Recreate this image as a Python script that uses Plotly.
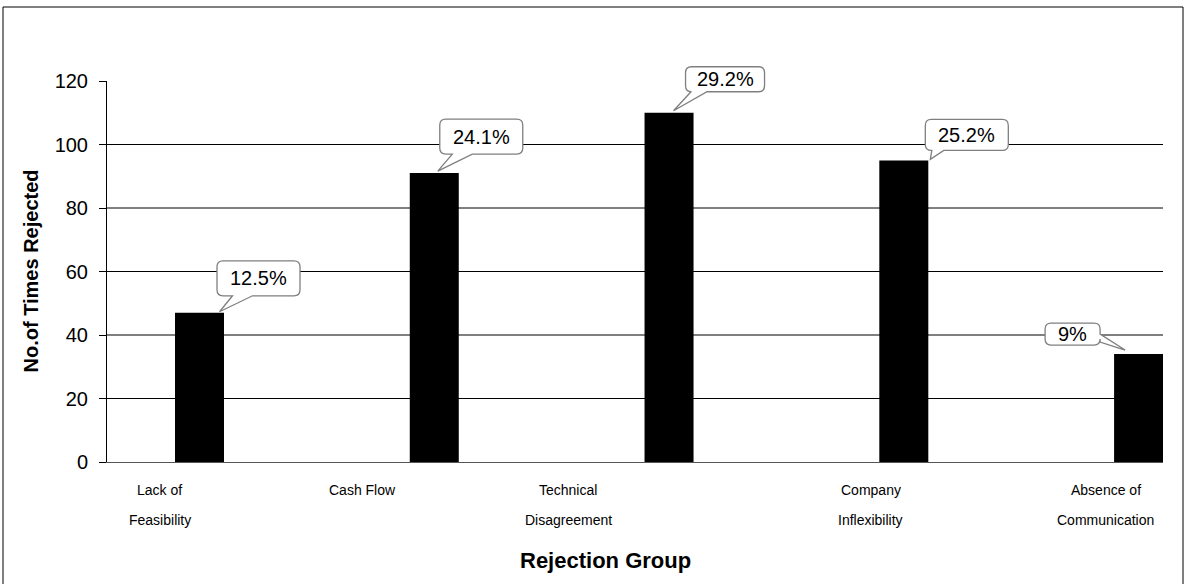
import plotly.graph_objects as go

# Rejection counts per group
categories = [
    ("Lack of", "Feasibility"),
    ("Cash Flow", ""),
    ("Technical", "Disagreement"),
    ("Company", "Inflexibility"),
    ("Absence of", "Communication"),
]
times_rejected = [47, 91, 110, 95, 34]
y_ticks = [0, 20, 40, 60, 80, 100, 120]
grid_values = [20, 40, 60, 80, 100]

total = sum(times_rejected)
shares = [round(100 * v / total, 1) for v in times_rejected]
share_labels = [f"{s:g}%" for s in shares]

FONT = "Liberation Sans, Arial, sans-serif"
W, H = 1187, 584
ML, MR, MT, MB = 107, 24, 81, 122
PW, PH = W - ML - MR, H - MT - MB
X_RANGE = [-0.394, 4.104]
Y_RANGE = [0, 120]

xpos = list(range(len(times_rejected)))

# horizontal pixel shift of each category label from its bar centre
label_shift = [-40, -72, -101, -33, -33]

# callout geometry in pixels relative to each bar's top centre (y up):
# (left, right, bottom, top, tail side, base a, base b, tip x, tip y)
callouts = [
    (17.5, 100.5, 17, 52, "bottom", 33, 53, 20, 1),
    (5.5, 88.5, 19, 54, "bottom", 18, 38, 3.5, 2),
    (16.5, 95.5, 21, 46, "bottom", 22, 38, 4.5, 2),
    (21.5, 104.5, 10, 41, "bottom", 28, 40, 26.5, 1),
    (-93.5, -38.5, 9, 31, "right", 12, 20, -13.5, 4),
]


def callout_path(x0, x1, yb, yt, side, a, b, tx, ty, r=6):
    p = [f"M{x0 + r},{yt}", f"L{x1 - r},{yt}", f"Q{x1},{yt} {x1},{yt - r}"]
    if side == "right":
        p += [f"L{x1},{b}", f"L{tx},{ty}", f"L{x1},{a}"]
    p += [f"L{x1},{yb + r}", f"Q{x1},{yb} {x1 - r},{yb}"]
    if side == "bottom":
        p += [f"L{b},{yb}", f"L{tx},{ty}", f"L{a},{yb}"]
    p += [f"L{x0 + r},{yb}", f"Q{x0},{yb} {x0},{yb + r}",
          f"L{x0},{yt - r}", f"Q{x0},{yt} {x0 + r},{yt}", "Z"]
    return " ".join(p)


def to_paper_x(x):
    return (x - X_RANGE[0]) / (X_RANGE[1] - X_RANGE[0])


def to_paper_y(y):
    return (y - Y_RANGE[0]) / (Y_RANGE[1] - Y_RANGE[0])


fig = go.Figure(
    go.Bar(
        x=xpos,
        y=times_rejected,
        width=0.2087,
        marker=dict(color="black", line=dict(width=0)),
        hoverinfo="skip",
    )
)

shapes = []
for g in grid_values:
    shapes.append(dict(type="line", xref="paper", x0=0, x1=1, yref="y", y0=g, y1=g,
                       line=dict(color="black", width=1), layer="below"))

annotations = []
for i, (v, lab, c) in enumerate(zip(times_rejected, share_labels, callouts)):
    x0, x1, yb, yt, side, a, b, tx, ty = c
    # paper-anchored so the callout is not clipped at the plot edge
    shapes.append(dict(
        type="path", xref="paper", yref="paper",
        xsizemode="pixel", ysizemode="pixel",
        xanchor=to_paper_x(i), yanchor=to_paper_y(v),
        path=callout_path(x0, x1, yb, yt, side, a, b, tx, ty),
        fillcolor="white", line=dict(color="#7f7f7f", width=1.3), layer="above",
    ))
    annotations.append(dict(
        x=i, y=v, xref="x", yref="y", text=lab, showarrow=False,
        xshift=(x0 + x1) / 2, yshift=(yb + yt) / 2,
        xanchor="center", yanchor="middle",
        font=dict(family=FONT, size=20, color="black"),
    ))

# category labels, two lines each
for i, ((l1, l2), dx) in enumerate(zip(categories, label_shift)):
    for line, shift in ((l1, -28), (l2, -58)):
        if not line:
            continue
        annotations.append(dict(
            x=i, y=0, xref="x", yref="paper", text=line, showarrow=False,
            xshift=dx, yshift=shift, xanchor="center", yanchor="middle",
            font=dict(family=FONT, size=14, color="black"),
        ))

annotations.append(dict(
    x=0.4725, y=0, xref="paper", yref="paper", text="<b>Rejection Group</b>",
    showarrow=False, yshift=-98, xanchor="center", yanchor="middle",
    font=dict(family=FONT, size=22, color="black"),
))
annotations.append(dict(
    x=0, y=0.5, xref="paper", yref="paper", text="<b>No.of Times Rejected</b>",
    showarrow=False, xshift=-77, textangle=-90, xanchor="center", yanchor="middle",
    font=dict(family=FONT, size=20, color="black"),
))

# outer frame
shapes.append(dict(
    type="rect", xref="paper", yref="paper",
    x0=(3 - ML) / PW, x1=(1183 - ML) / PW,
    y0=(PH - (H + 20 - MT)) / PH, y1=(PH + MT - 7) / PH,
    line=dict(color="black", width=1), fillcolor="rgba(0,0,0,0)", layer="above",
))

fig.update_layout(
    width=W, height=H,
    margin=dict(l=ML, r=MR, t=MT, b=MB),
    paper_bgcolor="white", plot_bgcolor="white",
    showlegend=False,
    shapes=shapes, annotations=annotations,
    xaxis=dict(range=X_RANGE, showgrid=False, zeroline=False,
               showticklabels=False, ticks="", showline=True,
               linecolor="#555555", linewidth=1, fixedrange=True),
    yaxis=dict(range=Y_RANGE, tickvals=y_ticks, showgrid=False, zeroline=False,
               showline=True, linecolor="black", linewidth=1,
               ticks="outside", ticklen=7, tickcolor="black", tickwidth=1,
               ticklabelstandoff=7,
               tickfont=dict(family=FONT, size=20, color="black"), fixedrange=True),
    font=dict(family=FONT, color="black"),
)

fig.write_html("out.html")
